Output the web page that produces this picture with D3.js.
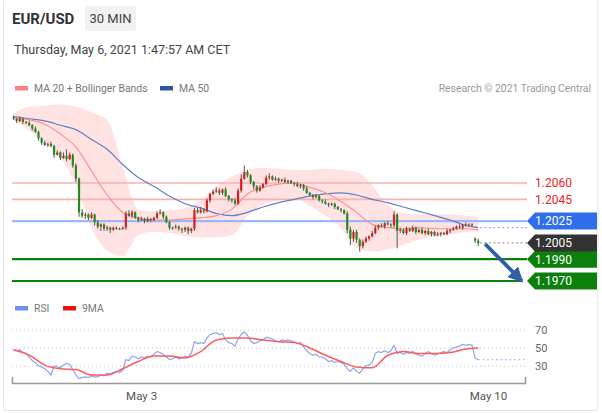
<!DOCTYPE html>
<html><head><meta charset="utf-8">
<script src="https://cdn.jsdelivr.net/npm/d3@7"></script>
<style>html,body{margin:0;padding:0;background:#fff;} svg{display:block;font-family:Roboto,"Liberation Sans",Arial,sans-serif;}</style>
</head><body><svg id="c" width="602" height="413"></svg>
<script>
// ---------- DATA ----------
const symbol = "EUR/USD";
const period = "30 MIN";
const stamp = "Thursday, May 6, 2021 1:47:57 AM CET";
const credit = "Research © 2021 Trading Central";

const closes = [1.2119,1.2117,1.2119,1.2116,1.2115,1.2113,1.2110,1.2107,1.2101,1.2097,
 1.2095,1.2096,1.2094,1.2086,1.2088,1.2083,1.2085,1.2082,1.2086,1.2076,
 1.2064,1.2033,1.2030,1.2031,1.2028,1.2031,1.2024,1.2020,1.2022,1.2018,
 1.2019,1.2017,1.2019,1.2018,1.2018,1.2019,1.2032,1.2030,1.2033,1.2028,
 1.2026,1.2027,1.2025,1.2027,1.2026,1.2028,1.2032,1.2033,1.2029,1.2024,
 1.2019,1.2019,1.2020,1.2018,1.2017,1.2019,1.2016,1.2018,1.2035,1.2033,
 1.2035,1.2034,1.2044,1.2050,1.2052,1.2053,1.2051,1.2054,1.2048,1.2045,
 1.2044,1.2041,1.2053,1.2064,1.2070,1.2067,1.2061,1.2057,1.2053,1.2056,
 1.2059,1.2065,1.2066,1.2063,1.2064,1.2062,1.2063,1.2061,1.2062,1.2060,
 1.2059,1.2057,1.2058,1.2055,1.2051,1.2049,1.2047,1.2048,1.2044,1.2043,
 1.2041,1.2040,1.2041,1.2038,1.2036,1.2035,1.2032,1.2017,1.2009,1.2015,
 1.2008,1.2002,1.2006,1.2009,1.2011,1.2014,1.2019,1.2021,1.2020,1.2023,
 1.2022,1.2021,1.2031,1.2016,1.2017,1.2014,1.2018,1.2016,1.2019,1.2015,
 1.2017,1.2014,1.2016,1.2013,1.2015,1.2012,1.2013,1.2014,1.2013,1.2016,
 1.2017,1.2018,1.2020,1.2019,1.2021,1.2022,1.2021,1.2022,1.2007,1.2005];
const firstOpen = 1.2120;
const gapOpens = {148: 1.2009};
// wick extensions beyond the body, in pips
const wickHi = [2,1,2,1,1,2,1,2,1,1, 2,1,2,1,2,1,3,6,2,1, 2,1,3,2,1,2,1,2,1,1, 2,1,1,1,1,1,2,3,2,1,
 1,2,1,2,1,1,2,3,1,1, 1,1,2,1,1,1,1,1,2,2, 3,2,2,1,2,3,2,1,2,1, 1,2,2,4,6,2,1,1,1,2,
 1,2,3,1,2,1,1,2,1,1, 1,2,1,1,2,1,1,2,1,1, 2,1,1,1,1,1,1,2,3,2, 2,1,2,2,1,2,2,1,2,1,
 2,1,3,1,2,1,2,1,2,1, 1,2,1,2,1,1,2,1,1,2, 1,2,1,2,1,2,1,1,1,2];
const wickLo = [1,2,1,2,1,1,2,1,2,2, 1,2,1,3,1,2,1,2,1,2, 3,4,2,3,2,1,3,2,4,2, 2,3,1,1,1,1,2,1,2,1,
 2,1,2,1,2,1,1,1,2,1, 2,2,1,2,3,2,3,2,2,1, 1,2,1,2,1,1,2,2,1,2, 2,1,1,2,1,2,2,3,2,1,
 1,1,2,1,1,2,1,1,2,1, 2,1,2,2,1,1,2,1,1,2, 1,2,1,2,1,2,1,3,6,3, 3,5,2,1,2,1,1,2,1,2,
 1,2,2,16,2,1,2,1,1,2, 1,1,2,1,2,1,1,2,1,1, 2,1,1,1,2,1,1,1,2,3];

// indicator samples (bar index -> value)
const maIdx   = [0,5,10,15,20,25,30,35,40,45,50,55,60,65,70,75,80,85,90,95,100,105,110,115,120,125,130,135,140,145,149];
const ma20    = [1.2120,1.2118,1.2114,1.2105,1.2093,1.2071,1.2049,1.2033,1.2028,1.2026,1.2026,1.2027,1.2028,1.2030,1.2036,1.2050,1.2056,1.2059,1.2060,1.2056,1.2051,1.2043,1.2033,1.2022,1.2019,1.2018,1.2019,1.2018,1.2018,1.2018,1.2017];
const ma50    = [1.2121,1.2119,1.2117,1.2113,1.2109,1.2100,1.2091,1.2077,1.2065,1.2057,1.2048,1.2041,1.2037,1.2032,1.2030,1.2033,1.2038,1.2042,1.2045,1.2048,1.2050,1.2051,1.2049,1.2045,1.2042,1.2038,1.2034,1.2030,1.2026,1.2021,1.2019];
const bbUpper = [1.2124,1.2130,1.2131,1.2132,1.2130,1.2125,1.2118,1.2075,1.2036,1.2034,1.2035,1.2037,1.2044,1.2057,1.2066,1.2072,1.2074,1.2073,1.2072,1.2072,1.2073,1.2072,1.2070,1.2058,1.2040,1.2032,1.2031,1.2031,1.2031,1.2030,1.2029];
const bbLower = [1.2118,1.2108,1.2097,1.2083,1.2058,1.2019,1.1998,1.1993,1.2012,1.2015,1.2014,1.2011,1.2010,1.2010,1.2012,1.2030,1.2040,1.2044,1.2046,1.2039,1.2030,1.2019,1.2000,1.1997,1.1999,1.2003,1.2008,1.2011,1.2013,1.2015,1.2016];

const rsi = [48,47,48,45,44,40,36,34,30,29, 27,24,20,30,29,28,31,33,32,26,
 20,16,17,18,17,19,18,18,20,19, 22,21,23,24,23,25,37,36,41,40,
 38,40,39,41,40,43,46,45,43,40, 37,38,40,38,39,41,40,44,57,55,
 56,55,61,65,66,67,65,66,59,56, 55,52,60,65,68,64,58,55,56,58,
 59,62,61,60,58,57,59,58,59,58, 57,55,56,51,47,44,42,43,40,40,
 38,35,36,34,35,34,32,27,24,28, 24,22,27,30,31,34,44,46,45,47,
 45,47,53,44,45,43,45,44,46,43, 42,41,44,46,44,42,43,45,46,45,
 48,50,51,52,54,53,54,53,39,37];
const rsiMa = [48,42,31,27,26,20,20,27,35,41,41,39,46,59,61,61,59,57,56,50,42,35,29,28,42,46,44,44,45,49,50];

const levels = [
  {p:1.2060, kind:"res"}, {p:1.2045, kind:"res"},
  {p:1.2025, kind:"pivot"}, {p:1.1990, kind:"sup"}, {p:1.1970, kind:"sup"}
];
const lastPrice = 1.2005;
const rsiTicks = [70, 50, 30];
const dateLabels = ["May 3", "May 10"];
const dateIdx = [40.9, 152.1];
const forecast = [{i:151.2, p:1.2004}, {i:163, p:1.1970}];

// ---------- SCALES ----------
const svg = d3.select("#c");
const L = 12, R = 527;
const x = d3.scaleLinear().domain([-0.5, 164]).range([12, 525]);
const y = d3.scaleLinear().domain([1.1970, 1.2060]).range([281, 183]);
const yr = d3.scaleLinear().domain([30, 70]).range([366, 330]);

const bars = closes.map((c, i) => {
  const o = i === 0 ? firstOpen : (gapOpens[i] !== undefined ? gapOpens[i] : closes[i-1]);
  return {i, o, c, h: Math.max(o,c) + wickHi[i]*0.0001, l: Math.min(o,c) - wickLo[i]*0.0001};
});
const N = bars.length;

// ---------- FRAME / HEADER ----------
svg.append("rect").attr("x",3.5).attr("y",-2).attr("width",594.5).attr("height",412.5)
  .attr("rx",3).attr("fill","#fff").attr("stroke","#e4e4e4");
svg.append("text").attr("x",12).attr("y",24).attr("font-size",15).attr("font-weight","bold")
  .attr("fill","#333").text(symbol);
svg.append("rect").attr("x",85).attr("y",6).attr("width",51).attr("height",25).attr("rx",2).attr("fill","#f1f1f1");
svg.append("text").attr("x",110.5).attr("y",23).attr("text-anchor","middle").attr("font-size",13).attr("fill","#444").text(period);
svg.append("text").attr("x",14).attr("y",54).attr("font-size",12.5).attr("fill","#444").text(stamp);

function legend(gx, gy, color, label) {
  svg.append("rect").attr("x",gx).attr("y",gy-2).attr("width",13).attr("height",4.5).attr("fill",color);
  svg.append("text").attr("x",gx+19).attr("y",gy+4).attr("font-size",10.4).attr("fill","#777").text(label);
}
legend(15, 88, "#ff7f7f", "MA 20 + Bollinger Bands");
legend(160, 88, "#2d55a0", "MA 50");
svg.append("text").attr("x",591).attr("y",92).attr("text-anchor","end").attr("font-size",10.4).attr("fill","#999").text(credit);
legend(15, 308, "#6f8fe8", "RSI");
legend(63, 308, "#ee1111", "9MA");

// ---------- PRICE PANEL ----------
const band = maIdx.map((d, k) => ({i:d, hi:bbUpper[k], lo:bbLower[k]}));
svg.append("path").datum(band)
  .attr("d", d3.area().x(d=>x(d.i)).y0(d=>y(d.lo)).y1(d=>y(d.hi)).curve(d3.curveMonotoneX))
  .attr("fill","#ffdcdc").attr("opacity",0.8);

const levelColor = {res:"#f8b0b0", pivot:"#9ab8f8", sup:"#0c800c"};
const tagColor = {pivot:"#2f6fec", sup:"#0c800c"};
levels.forEach(lv => {
  svg.append("line").attr("x1",L).attr("x2",lv.p===1.1970 ? 522 : R)
    .attr("y1",y(lv.p)).attr("y2",y(lv.p))
    .attr("stroke",levelColor[lv.kind]).attr("stroke-width", lv.kind==="res"?1.6:2.2);
});

const line = (arr) => d3.line().x((d,k)=>x(maIdx[k])).y(d=>y(d)).curve(d3.curveMonotoneX)(arr);
svg.append("path").attr("d", line(ma50)).attr("fill","none").attr("stroke","#5f7fc4").attr("stroke-width",1.2);
svg.append("path").attr("d", line(ma20)).attr("fill","none").attr("stroke","#ff8f8f").attr("stroke-width",1.2);

// dotted extensions
svg.append("line").attr("x1",x(N-1)+2).attr("x2",R).attr("y1",y(ma50[ma50.length-1])).attr("y2",y(ma50[ma50.length-1]))
  .attr("stroke","#7f9fe0").attr("stroke-dasharray","1.5,3").attr("stroke-width",1.2);
svg.append("line").attr("x1",x(N-1)+2).attr("x2",R).attr("y1",y(lastPrice)).attr("y2",y(lastPrice))
  .attr("stroke","#888").attr("stroke-dasharray","1.5,3").attr("stroke-width",1.2);

// candles
const cg = svg.append("g");
cg.selectAll("line").data(bars).join("line")
  .attr("x1",d=>x(d.i)).attr("x2",d=>x(d.i)).attr("y1",d=>y(d.h)).attr("y2",d=>y(d.l))
  .attr("stroke","#555").attr("stroke-width",1);
cg.selectAll("rect").data(bars).join("rect")
  .attr("x",d=>x(d.i)-1.1).attr("width",2.2)
  .attr("y",d=>y(Math.max(d.o,d.c)))
  .attr("height",d=>Math.max(1, Math.abs(y(d.o)-y(d.c))))
  .attr("fill",d=>d.c>d.o ? "#d81f1f" : "#228b22");

// forecast arrow
svg.append("defs").append("marker").attr("id","ah").attr("markerUnits","userSpaceOnUse")
  .attr("markerWidth",18).attr("markerHeight",18).attr("refX",13).attr("refY",9).attr("orient","auto")
  .append("path").attr("d","M0,1.5 L15,9 L0,16.5 Z").attr("fill","#2f5fa8");
svg.append("line").attr("x1",x(forecast[0].i)).attr("y1",y(forecast[0].p))
  .attr("x2",x(forecast[1].i)).attr("y2",y(forecast[1].p))
  .attr("stroke","#2f5fa8").attr("stroke-width",3.8).attr("marker-end","url(#ah)");

// right labels
function tag(p, fill) {
  const yy = y(p), h = 8.5;
  svg.append("path").attr("d",`M${R},${yy} L${R+8},${yy-h} L597,${yy-h} L597,${yy+h} L${R+8},${yy+h} Z`).attr("fill",fill);
  svg.append("text").attr("x",R+8).attr("y",yy+4.3).attr("font-size",12).attr("fill","#fff").text(p.toFixed(4));
}
levels.forEach(lv => {
  if (lv.kind === "res") {
    svg.append("text").attr("x",R+8).attr("y",y(lv.p)+4.3).attr("font-size",12).attr("fill","#ee2222").text(lv.p.toFixed(4));
  } else tag(lv.p, tagColor[lv.kind]);
});
tag(lastPrice, "#333");

// ---------- RSI PANEL ----------
rsiTicks.forEach(t => {
  svg.append("line").attr("x1",L).attr("x2",R).attr("y1",yr(t)).attr("y2",yr(t))
    .attr("stroke","#c4c4c4").attr("stroke-dasharray","1,3");
  svg.append("text").attr("x",R+8).attr("y",yr(t)+4).attr("font-size",11).attr("fill","#666").text(t);
});
svg.append("path").attr("d", d3.line().x((d,i)=>x(i)).y(d=>yr(d))(rsi))
  .attr("fill","none").attr("stroke","#8aa5f2").attr("stroke-width",1.2);
svg.append("line").attr("x1",x(N-1)).attr("x2",525).attr("y1",yr(rsi[N-1])).attr("y2",yr(rsi[N-1]))
  .attr("stroke","#9db3f0").attr("stroke-dasharray","1.5,3").attr("stroke-width",1.2);
svg.append("path").attr("d", d3.line().x((d,k)=>x(maIdx[k])).y(d=>yr(d)).curve(d3.curveMonotoneX)(rsiMa))
  .attr("fill","none").attr("stroke","#ff5c5c").attr("stroke-width",1.5);

// date axis
const ax = svg.append("g").attr("transform","translate(0,383)")
  .call(d3.axisBottom(x).tickValues(dateIdx).tickFormat((d,k)=>dateLabels[k]).tickSizeInner(0).tickSizeOuter(-6).tickPadding(9));
ax.select(".domain").attr("stroke","#999").attr("stroke-width",1.5);
ax.selectAll("text").attr("font-size",11.5).attr("fill","#555").attr("font-family","Roboto, Liberation Sans, Arial, sans-serif");
</script></body></html>
